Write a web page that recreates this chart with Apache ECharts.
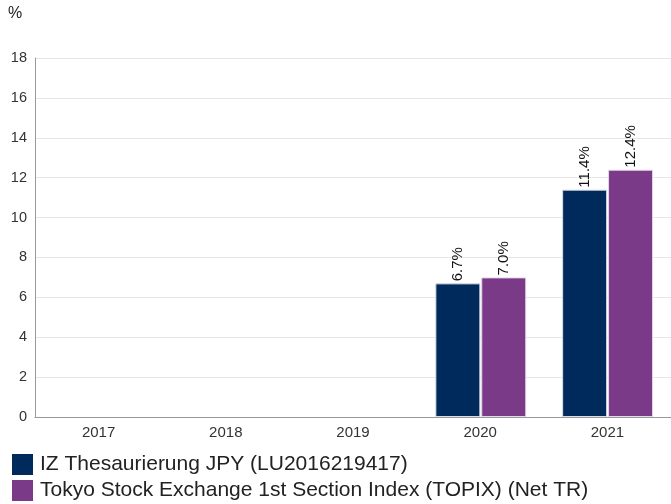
<!DOCTYPE html>
<html><head><meta charset="utf-8">
<script src="https://cdn.jsdelivr.net/npm/echarts@6/dist/echarts.min.js"></script>
<style>html,body{margin:0;padding:0;background:#fff}#c{width:671px;height:504px}</style>
</head><body><div id="c"></div>
<script>
const categories = ['2017', '2018', '2019', '2020', '2021'];
const fundName = 'IZ Thesaurierung JPY (LU2016219417)';
const indexName = 'Tokyo Stock Exchange 1st Section Index (TOPIX) (Net TR)';
const fundValues = [null, null, null, 6.7, 11.4];
const indexValues = [null, null, null, 7.0, 12.4];
const yTicks = { min: 0, max: 18, interval: 2 };

const chart = echarts.init(document.getElementById('c'), null, { renderer: 'canvas' });
const font = 'Arial, "Liberation Sans", sans-serif';
const lbl = {
  show: true, position: 'top', rotate: 90, align: 'left', verticalAlign: 'middle',
  distance: 2, color: '#111', fontSize: 15, fontFamily: font,
  formatter: p => p.value == null ? '' : p.value.toFixed(1) + '%'
};
chart.setOption({
  animation: false,
  textStyle: { fontFamily: font },
  graphic: [{ type: 'text', left: 8, top: 6, style: { text: '%', fontSize: 16, fill: '#222', fontFamily: font } }],
  grid: [
    { left: 35, right: 0, top: 58, bottom: 87, containLabel: false },
    { left: 37, width: 640, top: 58, bottom: 87, containLabel: false }
  ],
  legend: {
    orient: 'vertical', left: 12, top: 454, padding: 0, itemWidth: 21, itemHeight: 21, itemGap: 5,
    icon: 'rect', itemStyle: { borderWidth: 0 },
    textStyle: { fontSize: 21, color: '#222', fontFamily: font, padding: [0, 0, 0, 2] },
    data: [fundName, indexName]
  },
  xAxis: [{
    type: 'category', data: categories, gridIndex: 0,
    axisLine: { lineStyle: { color: '#999' } }, axisTick: { show: false },
    axisLabel: { fontSize: 15, color: '#333', margin: 8, fontFamily: font }
  }, {
    type: 'category', data: categories, gridIndex: 1, show: false
  }],
  yAxis: [{
    type: 'value', min: yTicks.min, max: yTicks.max, interval: yTicks.interval, gridIndex: 0,
    axisLine: { show: true, lineStyle: { color: '#999' } }, axisTick: { show: false },
    splitLine: { lineStyle: { color: '#e6e6e6' } },
    axisLabel: { fontSize: 14.5, color: '#333', margin: 8, fontFamily: font }
  }, {
    type: 'value', min: yTicks.min, max: yTicks.max, interval: yTicks.interval, gridIndex: 1, show: false
  }],
  series: [
    { name: fundName, type: 'bar', data: fundValues, barWidth: 45, barGap: '2%', xAxisIndex: 1, yAxisIndex: 1,
      itemStyle: { color: '#002a5c', borderColor: '#d8dde8', borderWidth: 1 }, label: lbl },
    { name: indexName, type: 'bar', data: indexValues, barWidth: 45, xAxisIndex: 1, yAxisIndex: 1,
      itemStyle: { color: '#7b3a88', borderColor: '#e5d8ea', borderWidth: 1 }, label: lbl }
  ]
});
</script></body></html>
